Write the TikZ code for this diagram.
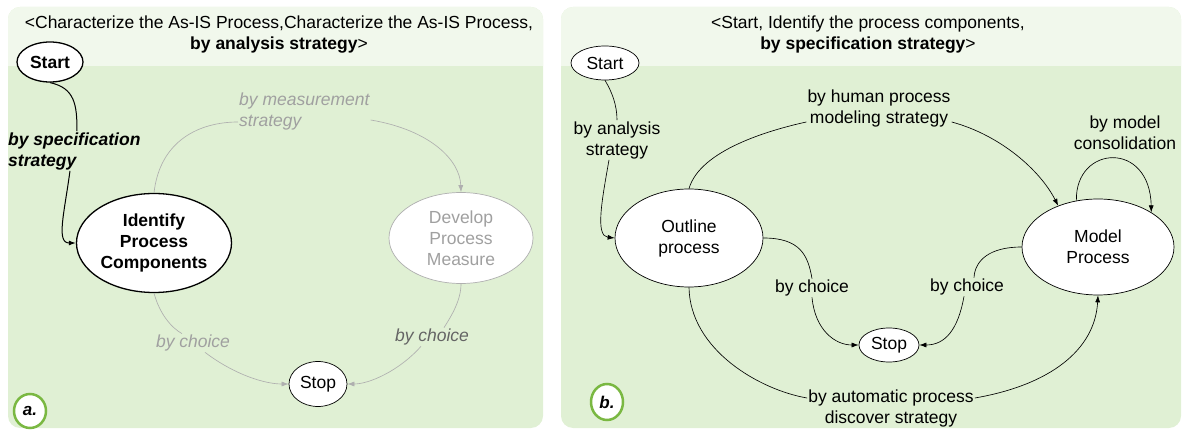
\documentclass[tikz,border=0pt]{standalone}
\usepackage{fontspec}
\setmainfont{Liberation Sans}
\usetikzlibrary{shapes.geometric, arrows.meta, positioning}
\definecolor{cPanel}{RGB}{224,240,212}
\definecolor{cHead}{RGB}{241,248,236}
\definecolor{cRing}{RGB}{122,184,66}
\definecolor{cFaint}{RGB}{160,160,160}
\definecolor{cFaintEdge}{RGB}{175,175,175}
\definecolor{cMid}{RGB}{100,100,100}
\tikzset{
	intention/.style={ellipse, draw=black, fill=white, inner sep=0pt, align=center, line width=0.7pt},
	boldint/.style  ={intention, font=\fontsize{17.5}{21}\selectfont\bfseries, line width=1.3pt},
	faintint/.style ={intention, draw=cFaintEdge, text=cFaint},
	tag/.style      ={ellipse, draw=cRing, line width=2.5pt, fill=white, minimum width=32pt, minimum height=34pt, inner sep=0pt, font=\fontsize{17}{20}\selectfont\bfseries\itshape},
	strat/.style    ={-{Latex[length=7pt,width=5pt]}, line width=0.65pt},
	faintstrat/.style={strat, draw=cFaintEdge, -{Latex[length=7pt,width=5pt,fill=cFaintEdge]}},
	stratlbl/.style ={align=center, inner sep=1pt},
	panel/.style    ={fill=cPanel, rounded corners=12pt},
}

\begin{document}
\begin{tikzpicture}[x=1pt, y=1pt, font=\fontsize{17.5}{21}\selectfont]
	\useasboundingbox (0,0) rectangle (1184,-430);
	% panels
	\fill[panel] (8,-7) rectangle (543,-428);
	\fill[panel] (561,-7) rectangle (1181,-428);
	\begin{scope}
		\clip (0,0) rectangle (1184,-66);
		\fill[cHead, rounded corners=12pt] (8,-7) rectangle (543,-428);
		\fill[cHead, rounded corners=12pt] (561,-7) rectangle (1181,-428);
	\end{scope}
	\node[align=center] (titleA) at (279,-35) {<Characterize the As-IS Process,Characterize the As-IS Process,\\\textbf{by analysis strategy}>};
	\node[align=center] (titleB) at (868,-35) {<Start, Identify the process components,\\\textbf{by specification strategy}>};

	% a. map
	\node[boldint, minimum width=66pt, minimum height=40pt] (startA) at (50,-62) {Start};
	\node[boldint, minimum width=155pt, minimum height=99pt] (ident) at (154,-243) {Identify\\Process\\Components};
	\node[faintint, minimum width=144pt, minimum height=91pt] (develop) at (461,-238) {Develop\\Process\\Measure};
	\node[intention, minimum width=58pt, minimum height=45pt] (stopA) at (318,-384) {Stop};
	\node[tag] (tagA) at (30,-411) {a.};

	\node[stratlbl, anchor=west, align=left, font=\fontsize{17.5}{21}\selectfont\bfseries\itshape] (spec) at (7,-151) {by specification\\strategy};
	\node[stratlbl, anchor=west, align=left, text=cFaint, font=\fontsize{17.5}{21}\selectfont\itshape] (measure) at (238,-111) {by measurement\\strategy};
	\node[stratlbl, text=cFaint, font=\fontsize{17.5}{21}\selectfont\itshape] (choiceA1) at (193,-343) {by choice};
	\node[stratlbl, text=cMid, font=\fontsize{17.5}{21}\selectfont\itshape] (choiceA2) at (432,-337) {by choice};

	\draw[line width=1pt] (startA.south) .. controls (75,-88) and (77,-105) .. (spec.north -| 77,0);
	\draw[strat, line width=1pt] (spec.south -| 70,0) .. controls (64,-215) and (56,-243) .. (ident.west);
	\draw[draw=cFaintEdge, line width=0.65pt] (ident.north) .. controls (160,-140) and (200,-122) .. (measure.west |- 0,-122);
	\draw[faintstrat] (measure.east |- 0,-120) .. controls (430,-130) and (460,-160) .. (develop.north);
	\draw[draw=cFaintEdge, line width=0.65pt] (ident.south) .. controls (160,-315) and (172,-328) .. (choiceA1.north -| 182,0);
	\draw[faintstrat] (choiceA1.south -| 205,0) .. controls (235,-375) and (265,-384) .. (stopA.west);
	\draw[draw=cFaintEdge, line width=0.65pt] (develop.south) .. controls (461,-300) and (452,-315) .. (choiceA2.north -| 444,0);
	\draw[faintstrat] (choiceA2.south -| 421,0) .. controls (400,-370) and (370,-384) .. (stopA.east);

	% b. map
	\node[intention, minimum width=68pt, minimum height=34pt] (startB) at (605,-63) {Start};
	\node[intention, minimum width=148pt, minimum height=98pt] (outline) at (689,-238) {Outline\\process};
	\node[intention, minimum width=152pt, minimum height=96pt] (model) at (1098,-247) {Model\\Process};
	\node[intention, minimum width=60pt, minimum height=34pt] (stopB) at (889,-345) {Stop};
	\node[tag, minimum height=36pt] (tagB) at (607,-402) {b.};

	\node[stratlbl] (analysis) at (617,-140) {by analysis\\strategy};
	\node[stratlbl] (human) at (879,-108) {by human process\\modeling strategy};
	\node[stratlbl] (consol) at (1125,-133) {by model\\consolidation};
	\node[stratlbl] (choiceB1) at (812,-288) {by choice};
	\node[stratlbl] (choiceB2) at (967,-287) {by choice};
	\node[stratlbl] (auto) at (891,-408) {by automatic process\\discover strategy};

	\draw[line width=0.65pt] (startB.south) .. controls (612,-92) and (617,-105) .. (analysis.north);
	\draw[strat] (analysis.south -| 609,0) .. controls (602,-200) and (595,-236) .. (outline.west);
	\draw[line width=0.65pt] (outline.north) .. controls (700,-150) and (770,-130) .. (human.west |- 0,-122);
	\draw[strat] (human.east |- 0,-122) .. controls (1000,-135) and (1040,-170) .. (model.134);
	\draw[strat] (model.115) .. controls (1075,-145) and (1150,-140) .. (model.33);
	\draw[line width=0.65pt] (outline.east) .. controls (800,-238) and (808,-255) .. (choiceB1.north);
	\draw[strat] (choiceB1.south) .. controls (815,-330) and (835,-345) .. (stopB.west);
	\draw[line width=0.65pt] (model.west) .. controls (990,-247) and (975,-260) .. (choiceB2.north -| 974,0);
	\draw[strat] (choiceB2.south -| 964,0) .. controls (958,-330) and (945,-345) .. (stopB.east);
	\draw[line width=0.65pt] (outline.south) .. controls (690,-350) and (760,-390) .. (auto.west |- 0,-398);
	\draw[strat] (auto.east |- 0,-398) .. controls (1050,-385) and (1095,-350) .. (model.south);
\end{tikzpicture}
\end{document}
